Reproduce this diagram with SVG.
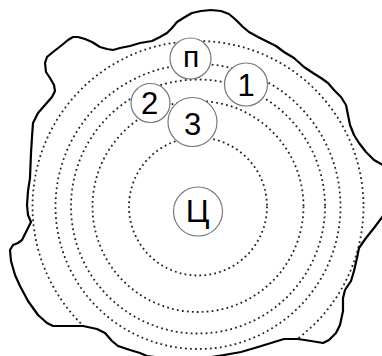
<svg xmlns="http://www.w3.org/2000/svg" width="382" height="356" viewBox="0 0 382 356">
  <style>
    .orbit { fill: none; stroke: #222; stroke-width: 1.8; stroke-dasharray: 1.8 3.2; }
    .outline { fill: none; stroke: #000; stroke-width: 2.2; stroke-linejoin: round; }
    .node circle { fill: #fff; stroke: #777; stroke-width: 1.2; }
    .node text { font-family: "Liberation Sans", Arial, sans-serif; font-size: 31px; fill: #000; text-anchor: middle; }
  </style>
  <defs>
    <path id="blob" d="M192,13 L201,11 L211,10 L221,11 L229,14 L236,20 L243,27 L249,32 L258,37 L268,42 L276,46 L284,52 L294,58 L304,67 L313,73 L321,78 L328,83 L334,90 L341,97 L346,105 L348,115 L350,125 L354,135 L359,143 L366,152 L374,160 L383,165 L390,170 L390,210 L383,216 L374,228 L366,238 L359,248 L357,258 L354,271 L351,281 L345,290 L343,298 L343,311 L340,325 L336,333 L329,340 L323,343 L311,341 L298,339 L284,339 L271,343 L258,347 L241,352 L224,355 L200,359 L170,359 L147,356 L140,353 L130,350 L118,346 L112,341 L105,333 L97,329 L83,326 L67,326 L53,326 L47,323 L38,315 L28,301 L20,286 L15,275 L11,261 L10,250 L13,245 L18,243 L22,240 L25,234 L28,228 L31,222 L28,215 L27,205 L28,191 L30,178 L31,153 L32,137 L33,123 L38,113 L45,105 L52,97 L55,91 L54,85 L50,78 L46,72 L45,63 L47,57 L53,52 L62,45 L68,40 L73,37 L78,37 L85,39 L92,42 L100,47 L107,49 L113,50 L120,48 L130,46 L140,43 L152,41 L160,37 L167,33 L172,28 L177,22 L185,17 Z"/>
    <clipPath id="inside"><use href="#blob"/></clipPath>
  </defs>
  <rect width="382" height="356" fill="#fff"/>
  <g id="orbits" clip-path="url(#inside)">
    <circle class="orbit" cx="198" cy="206.5" r="69"/>
    <circle class="orbit" cx="198" cy="206.5" r="105.5"/>
    <circle class="orbit" cx="198" cy="206.5" r="127"/>
    <circle class="orbit" cx="198" cy="206.5" r="142.5"/>
    <circle class="orbit" cx="198" cy="206.5" r="165.5"/>
  </g>
  <g id="outline"><use href="#blob" class="outline"/></g>
  <g id="node-p" class="node"><circle cx="190.5" cy="58.5" r="20.5"/><text x="191" y="66.5" style="font-size:30px">п</text></g>
  <g id="node-1" class="node"><circle cx="246" cy="84.5" r="21.5"/><text x="246" y="95.5">1</text></g>
  <g id="node-2" class="node"><circle cx="150.5" cy="103" r="19.5"/><text x="149.5" y="113.5">2</text></g>
  <g id="node-3" class="node"><circle cx="192.5" cy="122" r="24.5"/><text x="192.5" y="135">3</text></g>
  <g id="node-c" class="node"><circle cx="198" cy="211.5" r="24.5"/><text x="197.5" y="222" style="font-size:32px">Ц</text></g>
</svg>
